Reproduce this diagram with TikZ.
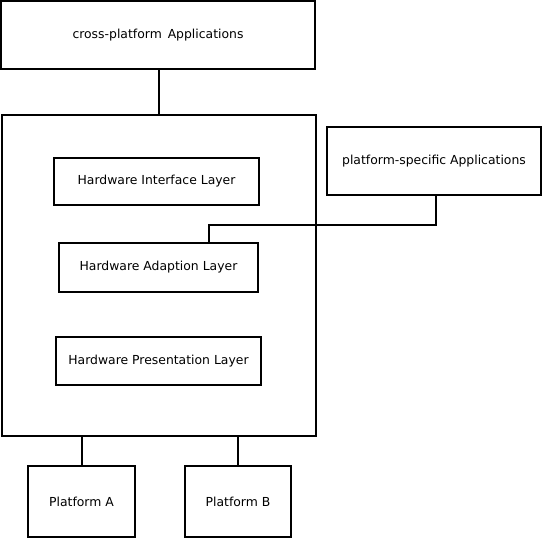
\documentclass[tikz,border=0pt]{standalone}
\usepackage{fontspec}
\setmainfont{DejaVu Sans}
\begin{document}
\begin{tikzpicture}[x=1pt,y=-1pt,line width=2pt,
  box/.style={draw,rectangle,inner sep=0pt,font=\fontsize{12.4}{14}\selectfont},
  link/.style={draw,line width=2pt}]
\useasboundingbox (0,0) rectangle (544,539);
\node[box,minimum width=314pt,minimum height=68pt] (cross) at (158,35) {cross-platform\hspace{2pt} Applications};
\node[box,minimum width=314pt,minimum height=321pt] (big) at (159,275.5) {};
\node[box,minimum width=205pt,minimum height=47pt] (hil) at (156.5,181.5) {Hardware Interface Layer};
\node[box,minimum width=199pt,minimum height=49pt] (hal) at (158.5,267.5) {Hardware Adaption Layer};
\node[box,minimum width=205pt,minimum height=48pt] (hpl) at (158.5,361) {Hardware Presentation Layer};
\node[box,minimum width=214pt,minimum height=68pt] (psa) at (434,161) {platform-specific Applications};
\node[box,minimum width=107pt,minimum height=71pt] (pa) at (81.5,501.5) {Platform A};
\node[box,minimum width=106pt,minimum height=71pt] (pb) at (238,501.5) {Platform B};
\coordinate (j1) at (436,224.5);
\coordinate (j2) at (209,224.5);
\draw[link] (cross.south -| 159,0) -- (big.north -| 159,0);
\draw[link] (psa.south -| j1) -- (j1) -- (j2) -- (hal.north -| j2);
\draw[link] (big.south -| pa) -- (pa.north);
\draw[link] (big.south -| pb) -- (pb.north);
\end{tikzpicture}
\end{document}
